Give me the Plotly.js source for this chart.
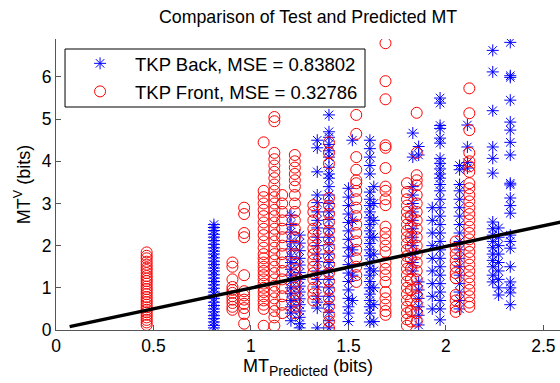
<!DOCTYPE html>
<html>
<head>
<meta charset="utf-8">
<script src="https://cdn.plot.ly/plotly-3.0.1.min.js"></script>
<style>html,body{margin:0;padding:0;background:#fff;}#chart{width:560px;height:383px;}</style>
</head>
<body>
<div id="chart"></div>
<script>
// Column positions (MT_Predicted) and the MT^V values read in each column
const backColX = [0.81, 1.205, 1.25, 1.34, 1.40, 1.50, 1.52, 1.61, 1.63, 1.83, 1.86, 1.93, 1.97, 2.07, 2.11, 2.24, 2.27, 2.33];
const backColY = [
  [0.05,0.11,0.19,0.27,0.34,0.43,0.5,0.58,0.66,0.75,0.83,0.9,0.99,1.07,1.15,1.23,1.31,1.4,1.47,1.55,1.63,1.71,1.8,1.87,1.95,2.03,2.12,2.2,2.27,2.36,2.43,2.5],
  [2.72,2.5,2.32,2.1,1.92,1.74,1.6,1.44,1.3,1.16,1.0,0.86,0.7,0.55,0.4,0.22],
  [2.25,2.06,1.88,1.7,1.54,1.36,1.2,1.04,0.9,0.74,0.6,0.45,0.3,0.15,0.05],
  [4.5,4.32,3.75,3.2,3.02,2.8,2.6,2.42,2.2,2.0,1.8,1.62,1.4,1.2,1.02,0.8,0.66,0.52,0.05],
  [5.1,4.7,4.57,4.4,4.25,4.1,3.86,3.7,3.6,3.4,3.2,3.0,2.8,2.62,2.4,2.2,2.02,1.8,1.6,1.42,1.2,1.0,0.8,0.6,0.42,0.22,0.05],
  [3.36,3.15,2.95,2.75,2.55,2.35,2.15,1.95,1.75,1.55,1.35,1.15,0.95,0.75,0.55,0.4,0.2],
  [4.5,2.6,1.9,1.3,0.7],
  [4.5,4.3,4.1,3.9,3.7,3.27,3.1,2.95,2.8,2.66,2.5,2.35,2.2,2.05,1.9,1.76,1.6,1.45,1.3,1.15,1.0,0.85,0.7,0.55,0.4,0.19],
  [3.4,3.0,2.6,2.2,1.8,1.4,1.0,0.6,0.2],
  [4.67,4.1,3.4,3.2,3.0,2.8,2.6,2.4,2.2,2.0,1.8,1.6,1.4],
  [4.35,4.15,1.14,0.95,0.75,0.55,0.35,0.12],
  [2.9,2.6,2.3,2.0,1.7,1.4,1.1,0.8,0.5],
  [5.5,5.38,4.85,4.78,4.55,4.43,4.07,3.95,3.82,3.7,3.6,3.45,3.3,3.1,2.9,2.7,2.5,2.3,2.1,1.9,1.7,1.5,1.3,1.1,0.9,0.7,0.5,0.24],
  [3.9,3.8,3.45,3.3,3.1,2.9,2.7,2.5,2.3,2.1,1.9,1.7,1.5,1.3,1.1,0.9,0.7,0.5],
  [4.86,4.34,3.97,3.84],
  [6.63,6.12,5.2,4.34,4.07,3.72,2.56,2.4,2.25,2.1,1.95,1.8,1.65,1.5,1.3,1.14],
  [2.42,2.2,2.0,1.8,1.6,1.4,1.2,1.0,0.83],
  [6.82,6.03,5.99,5.45,4.93,4.74,4.45,4.15,3.48,3.44,3.13,2.95,2.77,2.25,2.1,1.94,1.5,1.14,1.0,0.88,0.6]
];
const frontColX = [0.465, 0.905, 0.965, 1.065, 1.12, 1.16, 1.225, 1.32, 1.40, 1.54, 1.69, 1.80, 1.82, 1.85, 2.05, 2.12];
const frontColY = [
  [0.12,0.18,0.24,0.3,0.36,0.42,0.48,0.54,0.6,0.66,0.72,0.78,0.85,0.91,0.97,1.03,1.1,1.16,1.22,1.28,1.35,1.42,1.48,1.55,1.62,1.7,1.76,1.84],
  [1.6,1.5,1.2,1.02,0.95,0.88,0.8,0.72,0.64,0.55,0.48],
  [2.9,2.75,2.3,2.2,1.3,0.92,0.82,0.72,0.62,0.52,0.38,0.15],
  [4.45,3.3,3.15,3.0,2.85,2.7,2.55,2.4,2.25,2.1,1.95,1.8,1.7,1.6,1.5,1.4,1.3,1.2,1.1,1.0,0.9,0.8,0.7,0.6,0.5,0.1],
  [5.05,4.95,4.2,4.05,3.9,3.75,3.6,3.45,3.3,3.15,3.0,2.85,2.7,2.55,2.4,2.25,2.1,1.95,1.8,1.65,1.5,1.35,1.2,1.05,0.9,0.75,0.6,0.45,0.3,0.1],
  [3.2,3.0,2.8,2.6,2.4,2.2,2.0,1.8,1.6,1.4,1.2,1.0,0.8,0.6,0.4],
  [4.15,4.0,3.85,3.7,3.55,3.4,3.2,3.0,2.8,2.6,2.4,2.2,2.0,1.8,1.6,1.45,1.3,1.15,1.0,0.85,0.7,0.55,0.4],
  [2.96,2.8,2.6,2.4,2.25,2.1,1.95,1.8,1.65,1.5,1.35,1.2,1.0,0.85,0.7],
  [4.45,4.2,3.95,3.13,2.95,2.75,2.55,2.35,2.15,1.95,1.75,1.55,1.35,1.15,0.95,0.75,0.55,0.35,0.2,0.05],
  [5.1,4.65,4.1,3.8,3.55,3.48,3.3,3.1,2.9,2.7,2.5,2.3,2.1,1.9,1.7,1.5,1.3,1.14],
  [6.8,5.9,5.47,4.38,4.32,3.84,3.4,3.3,3.1,2.96,2.45,2.3,2.15,2.0,1.85,1.6,1.45,1.3,1.14,0.9,0.75,0.6,0.45,0.36],
  [3.48,3.27,3.1,2.95,2.8,2.65,2.5,2.35,2.2,2.05,1.9,1.75,1.6,1.45,1.3,1.15,1.0,0.85,0.7,0.55,0.4,0.25,0.1],
  [2.7,2.45,2.2,1.95,1.7,1.45,1.2,0.95,0.7,0.45,0.2],
  [5.15,4.2,3.67,3.55,3.43,3.2,3.0,2.8,2.6,2.4,2.2,2.0,1.8,1.6,1.4,1.2,1.0,0.8,0.6,0.4,0.2],
  [2.1,1.95,1.8,1.65,1.5,1.35,1.23,0.83,0.7,0.55,0.43],
  [5.73,5.14,4.74,4.2,4.0,3.88,3.75,3.48,3.36,3.2,3.05,2.9,2.75,2.6,2.45,2.3,2.15,2.0,1.85,1.7,1.55,1.4,1.25,1.1,0.95,0.8,0.65,0.55]
];
// Fitted line end points
const fitX = [0.07, 2.7];
const fitY = [0.08, 2.67];
const xTicks = [0, 0.5, 1, 1.5, 2, 2.5];
const yTicks = [0, 1, 2, 3, 4, 5, 6];
const seriesNames = ['TKP Back, MSE = 0.83802', 'TKP Front, MSE = 0.32786'];

function flatten(colX, colY) {
  const xs = [], ys = [];
  colX.forEach((cx, i) => colY[i].forEach(v => { xs.push(cx); ys.push(v); }));
  return {xs, ys};
}
const back = flatten(backColX, backColY);
const front = flatten(frontColX, frontColY);

const traces = [
  {x: back.xs, y: back.ys, type: 'scatter', mode: 'markers', name: seriesNames[0], legendgroup: 'a',
   marker: {symbol: 'asterisk-open', size: 10, color: '#0000ff', line: {color: '#0000ff', width: 1}}},
  {x: front.xs, y: front.ys, type: 'scatter', mode: 'markers', name: seriesNames[1], legendgroup: 'b',
   marker: {symbol: 'circle-open', size: 11, color: '#ff0000', line: {color: '#ff0000', width: 1}}},
  {x: fitX, y: fitY, type: 'scatter', mode: 'lines', showlegend: false, hoverinfo: 'skip',
   line: {color: '#000000', width: 3.5}}
];

const layout = {
  width: 560, height: 383,
  margin: {l: 56, r: 0, t: 39, b: 53},
  paper_bgcolor: '#ffffff', plot_bgcolor: '#ffffff',
  font: {family: '"Liberation Sans", Arial, sans-serif', size: 17, color: '#000'},
  title: {text: 'Comparison of Test and Predicted MT', font: {size: 17.8}, x: 0.5, xanchor: 'center', y: 0.955, yanchor: 'middle', xref: 'paper'},
  xaxis: {range: [0, 2.585], tickvals: xTicks, ticktext: xTicks.map(String), ticks: 'inside', ticklen: 5, tickcolor: '#555',
          showline: true, linecolor: '#555', linewidth: 1, showgrid: false, zeroline: false, mirror: false,
          tickfont: {size: 17.5},
          title: {text: 'MT<sub><span style="font-size:14px">Predicted</span></sub> (bits)', font: {size: 18}, standoff: 4}},
  yaxis: {range: [0, 6.9], tickvals: yTicks, ticktext: yTicks.map(String), ticks: 'inside', ticklen: 5, tickcolor: '#555',
          showline: true, linecolor: '#555', linewidth: 1, showgrid: false, zeroline: false, mirror: false,
          tickfont: {size: 17.5}, title: {text: 'MT<sup>V</sup> (bits)', font: {size: 18}, standoff: 6}},
  shapes: [{type: 'rect', xref: 'paper', yref: 'paper', x0: 0.0179, x1: 0.6131, y0: 0.7663, y1: 0.9656,
            fillcolor: '#ffffff', line: {color: '#000', width: 1}, layer: 'above'}],
  showlegend: true,
  legend: {x: 0.018, y: 0.98, xanchor: 'left', yanchor: 'top', bgcolor: 'rgba(0,0,0,0)', borderwidth: 0,
           font: {size: 18.5}, itemwidth: 60, tracegroupgap: 1}
};

Plotly.newPlot('chart', traces, layout, {displayModeBar: false, staticPlot: true});
</script>
</body>
</html>
